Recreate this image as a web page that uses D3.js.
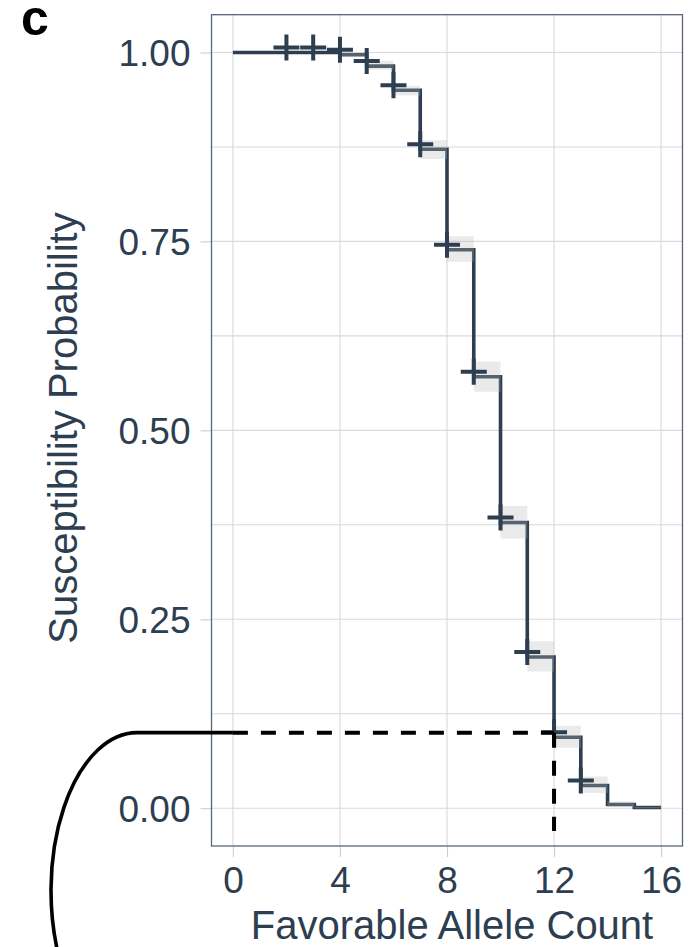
<!DOCTYPE html>
<html>
<head>
<meta charset="utf-8">
<script src="https://cdn.jsdelivr.net/npm/d3@7"></script>
<style>
  html, body { margin: 0; padding: 0; background: #fff; }
  svg { display: block; font-family: "Liberation Sans", Arial, Helvetica, sans-serif; }
</style>
</head>
<body>
<div id="chart"></div>
<script>
const width = 690;
const height = 947;
const panel = { left: 211.5, right: 682.5, top: 14.7, bottom: 846 };

// step levels for each allele count (interval [k, k+1))
const counts = [0, 1, 2, 3, 4, 5, 6, 7, 8, 9, 10, 11, 12, 13, 14, 15];
const survival = [1, 1, 1, 1, 0.997, 0.982, 0.95, 0.872, 0.739, 0.571, 0.378, 0.2, 0.094, 0.03, 0.005, 0.001];
const lower = [1, 1, 1, 1, 0.994, 0.977, 0.943, 0.859, 0.723, 0.551, 0.357, 0.181, 0.08, 0.02, 0.002, 0];
const upper = [1, 1, 1, 1, 1, 0.989, 0.956, 0.884, 0.757, 0.591, 0.4, 0.221, 0.109, 0.042, 0.009, 0.002];
const maxCount = 16;
const censored = [2, 3, 4, 5, 6, 7, 8, 9, 10, 11, 12, 13];

const xTicks = [0, 4, 8, 12, 16];
const yTicks = [0, 0.25, 0.5, 0.75, 1];
const yMinor = [0.125, 0.375, 0.625, 0.875];

const cutoffCount = 12;
const cutoffProb = 0.1;

const ink = "#2c3e50";
const grid = "#d9d9d9";

const svg = d3
  .select("#chart")
  .append("svg")
  .attr("width", width)
  .attr("height", height);

const x = d3
  .scaleLinear()
  .domain([-0.8, maxCount + 0.8])
  .range([panel.left, panel.right]);

const y = d3
  .scaleLinear()
  .domain([-0.05, 1.05])
  .range([panel.bottom, panel.top]);

// grid
svg
  .append("g")
  .selectAll("line")
  .data(yMinor.concat(yTicks))
  .enter()
  .append("line")
  .attr("x1", panel.left)
  .attr("x2", panel.right)
  .attr("y1", (d) => y(d))
  .attr("y2", (d) => y(d))
  .attr("stroke", grid)
  .attr("stroke-width", 1.1);

svg
  .append("g")
  .selectAll("line")
  .data(xTicks)
  .enter()
  .append("line")
  .attr("x1", (d) => x(d))
  .attr("x2", (d) => x(d))
  .attr("y1", panel.top)
  .attr("y2", panel.bottom)
  .attr("stroke", grid)
  .attr("stroke-width", 1.1);

// axes
const xAxis = d3.axisBottom(x).tickValues(xTicks).tickSize(11).tickPadding(10);
const yAxis = d3
  .axisLeft(y)
  .tickValues(yTicks)
  .tickSize(11)
  .tickPadding(10)
  .tickFormat(d3.format(".2f"));

const gx = svg
  .append("g")
  .attr("transform", `translate(0, ${panel.bottom})`)
  .call(xAxis);
const gy = svg
  .append("g")
  .attr("transform", `translate(${panel.left}, 0)`)
  .call(yAxis);

[gx, gy].forEach((g) => {
  g.select(".domain").remove();
  g.selectAll(".tick line").attr("stroke", "#cfcfcf").attr("stroke-width", 1.1);
  g.selectAll(".tick text")
    .attr("fill", ink)
    .style("font-size", "37px")
    .style("font-family", '"Liberation Sans", Arial, sans-serif');
});
gy.selectAll(".tick text").attr("dy", "0.36em");

// survival step curve
const pts = counts.map((k, i) => ({ k, s: survival[i], lo: lower[i], hi: upper[i] }));
pts.push({ k: maxCount, s: survival[survival.length - 1], lo: lower[lower.length - 1], hi: upper[upper.length - 1] });

const line = d3
  .line()
  .x((d) => x(d.k))
  .y((d) => y(d.s))
  .curve(d3.curveStepAfter);

svg
  .append("path")
  .datum(pts)
  .attr("d", line)
  .attr("fill", "none")
  .attr("stroke", ink)
  .attr("stroke-width", 3.6);

// confidence band sits on top of the line, like the original
const band = d3
  .area()
  .x((d) => x(d.k))
  .y0((d) => y(d.lo))
  .y1((d) => y(d.hi))
  .curve(d3.curveStepAfter);

svg
  .append("path")
  .datum(pts)
  .attr("d", band)
  .attr("fill", "#bbbbbb")
  .attr("fill-opacity", 0.3);

// censor marks
svg
  .append("g")
  .selectAll("path")
  .data(censored)
  .enter()
  .append("path")
  .attr("transform", (d) => `translate(${x(d)}, ${y(survival[d]) - 5})`)
  .attr("d", "M-13,0H13M0,-13V13")
  .attr("stroke", ink)
  .attr("stroke-width", 4)
  .attr("fill", "none");

// panel border
svg
  .append("rect")
  .attr("x", panel.left)
  .attr("y", panel.top)
  .attr("width", panel.right - panel.left)
  .attr("height", panel.bottom - panel.top)
  .attr("fill", "none")
  .attr("stroke", "#56677a")
  .attr("stroke-width", 1.3);

// cutoff annotation
svg
  .append("path")
  .attr(
    "d",
    `M${x(0)},${y(cutoffProb)}H${x(cutoffCount)}M${x(cutoffCount)},${y(cutoffProb)}V${y(-0.03)}`
  )
  .attr("fill", "none")
  .attr("stroke", "#000")
  .attr("stroke-width", 4)
  .attr("stroke-dasharray", "15,13");

const hx = x(0) - 96;
svg
  .append("path")
  .attr("d", `M${x(0)},${y(cutoffProb)}H${hx}A86 158 0 0 0 ${hx - 77} ${y(cutoffProb) + 228}`)
  .attr("fill", "none")
  .attr("stroke", "#000")
  .attr("stroke-width", 3.6);

// titles
svg
  .append("text")
  .attr("x", 452)
  .attr("y", 939)
  .attr("text-anchor", "middle")
  .attr("fill", ink)
  .style("font-size", "40px")
  .text("Favorable Allele Count");

svg
  .append("text")
  .attr("transform", "rotate(-90)")
  .attr("x", -428)
  .attr("y", 77)
  .attr("text-anchor", "middle")
  .attr("fill", ink)
  .style("font-size", "40px")
  .text("Susceptibility Probability");

svg
  .append("text")
  .attr("x", 21)
  .attr("y", 35)
  .attr("fill", "#000")
  .style("font-size", "50px")
  .style("font-weight", "bold")
  .text("c");
</script>
</body>
</html>
